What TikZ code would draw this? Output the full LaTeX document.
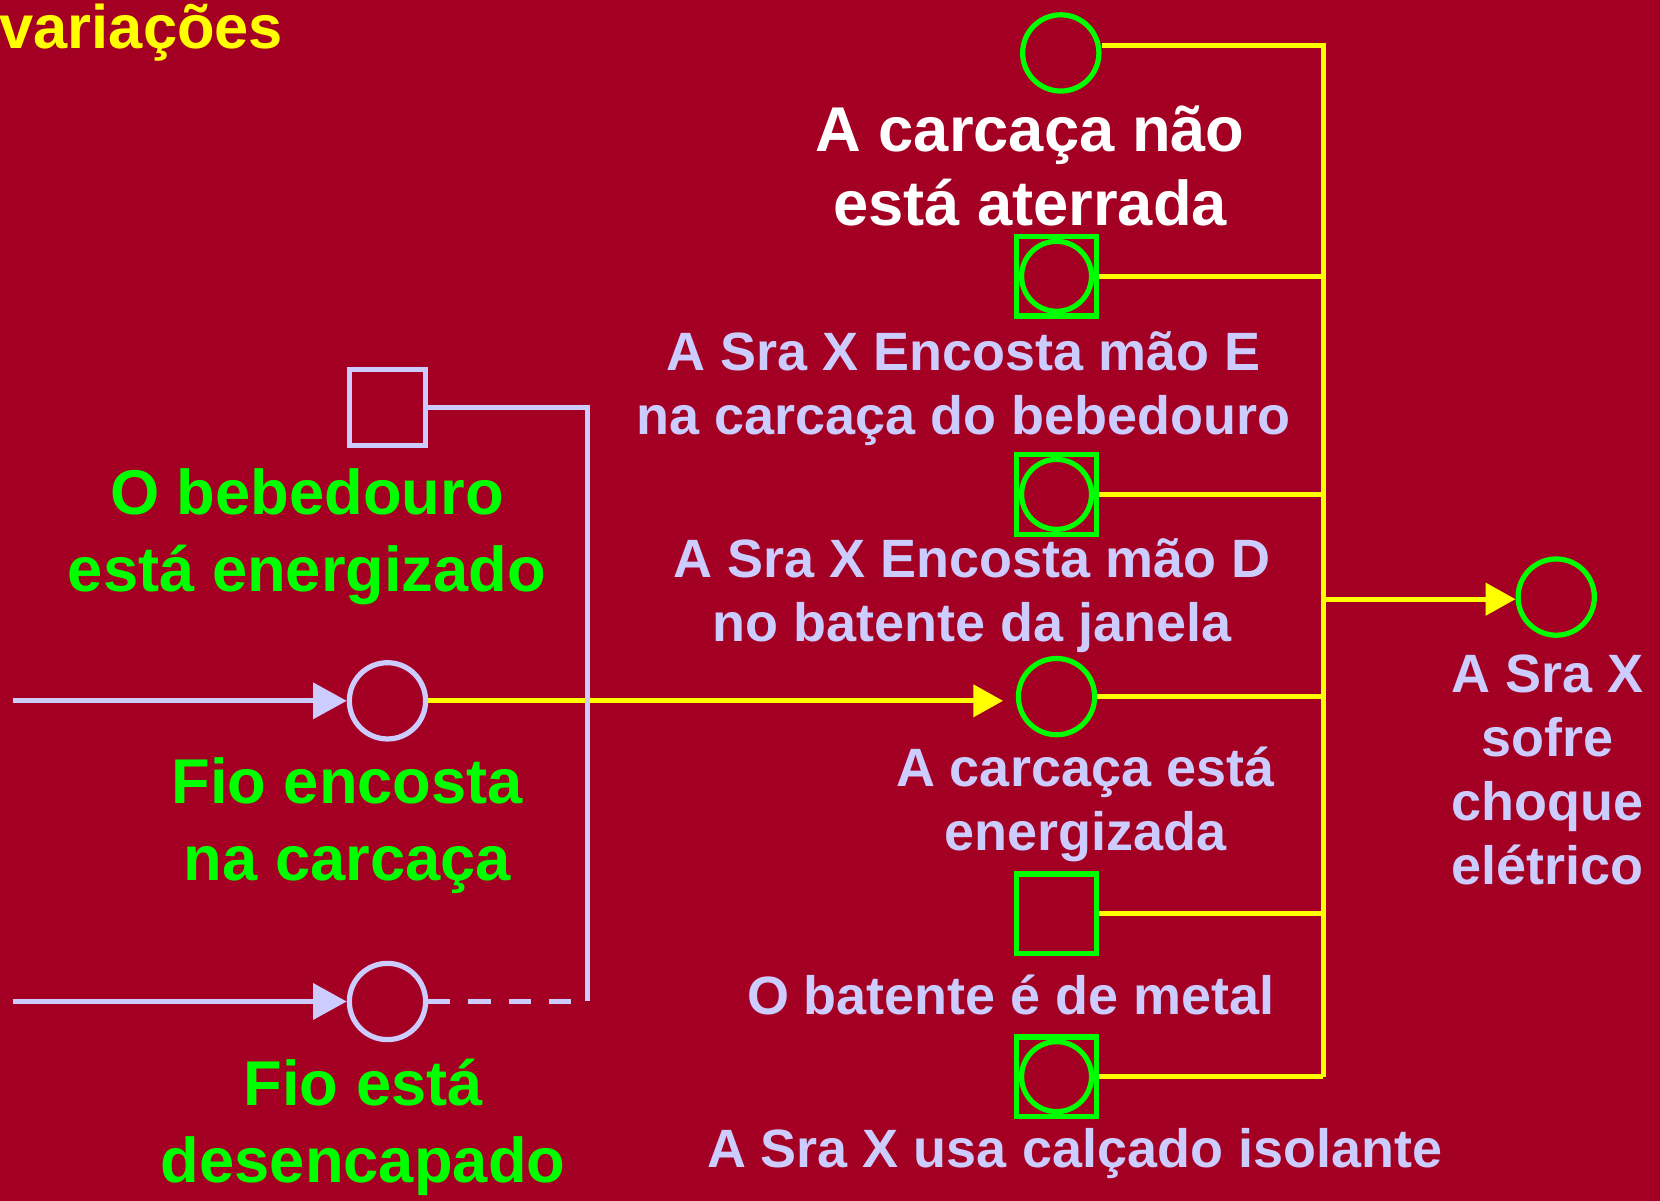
\documentclass[tikz,border=0pt]{standalone}
\usepackage{fontspec}
\setmainfont{Liberation Sans}
\definecolor{ftared}{RGB}{163, 0, 35}
\definecolor{ftalav}{RGB}{204, 204, 255}
\definecolor{ftagreen}{RGB}{0, 255, 0}
\definecolor{ftayellow}{RGB}{255, 255, 0}
\usepackage{tikz}
\usetikzlibrary{arrows.meta, positioning, calc}
\tikzset{
    eventcirc/.style={circle, draw=ftagreen, line width=1.4pt, minimum size=0.72cm, inner sep=0pt},
    inputcirc/.style={circle, draw=ftalav, line width=1.4pt, minimum size=0.72cm, inner sep=0pt},
    condbox/.style={rectangle, draw=ftagreen, line width=1.4pt, minimum size=0.75cm, inner sep=0pt},
    basicbox/.style={condbox, path picture={\draw[ftagreen, line width=1.4pt]
                     (path picture bounding box.center) circle (0.33cm);}},
    inputbox/.style={rectangle, draw=ftalav, line width=1.4pt, minimum size=0.72cm, inner sep=0pt},
    whitetxt/.style={align=center, inner sep=0pt, text=white, font=\fontsize{17}{20}\selectfont\bfseries},
    lavtxt/.style={align=center, inner sep=0pt, text=ftalav, font=\fontsize{14.5}{17.2}\selectfont\bfseries},
    greentxt/.style={align=center, inner sep=0pt, text=ftagreen, font=\fontsize{17}{20.8}\selectfont\bfseries},
    yline/.style={ftayellow, line width=1.4pt},
    yarrow/.style={-{Triangle[length=8pt, width=8.5pt]}, yline},
    lline/.style={ftalav, line width=1.4pt},
    larrow/.style={-{Triangle[length=9pt, width=9.5pt]}, ftalav, line width=1.4pt},
}

\begin{document}
\begin{tikzpicture}[x=0.01cm, y=-0.01cm]
    \path[use as bounding box, fill=ftared] (0,0) rectangle (1568,1134);

    % title
    \node[anchor=base west, inner sep=0pt, text=ftayellow, font=\fontsize{16.5}{19}\selectfont\bfseries] (title) at (-1,46) {variações};

    % right column of events
    \node[eventcirc] (carc) at (1002,50) {};
    \node[whitetxt] (carctxt) at (973,157) {A carcaça não\\está aterrada};
    \node[basicbox] (maoE) at (998,261) {};
    \node[lavtxt] (maoEtxt) at (910,367) {A Sra X Encosta mão E\\na carcaça do bebedouro};
    \node[basicbox] (maoD) at (998,467) {};
    \node[lavtxt] (maoDtxt) at (918,563) {A Sra X Encosta mão D\\no batente da janela};
    \node[eventcirc] (energ) at (998,658) {};
    \node[lavtxt] (energtxt) at (1025,760) {A carcaça está\\energizada};
    \node[condbox] (metal) at (998,863) {};
    \node[lavtxt] (metaltxt) at (955,940) {O batente é de metal};
    \node[basicbox] (calc) at (998,1017) {};
    \node[lavtxt] (calctxt) at (1015,1090) {A Sra X usa calçado isolante};

    % top event
    \node[eventcirc] (choque) at (1470,564) {};
    \node[lavtxt] (choquetxt) at (1462,727) {A Sra X\\sofre\\choque\\elétrico};

    % left column
    \node[inputbox] (beb) at (366,385) {};
    \node[greentxt] (bebtxt) at (290,507) {O bebedouro\\está energizado};
    \node[inputcirc] (encosta) at (366,662) {};
    \node[greentxt] (encostatxt) at (328,780) {Fio encosta\\na carcaça};
    \node[inputcirc] (desenc) at (366,946) {};
    \node[greentxt] (desenctxt) at (343,1065) {Fio está\\desencapado};

    \coordinate (bus) at (1250,566);
    \coordinate (jn) at (555,392);
    \coordinate (in1) at (12,662);
    \coordinate (in2) at (12,946);
    \coordinate (carcout) at ($(carc.east)+(0,-7)$);

    % yellow connections
    \draw[yline] (carcout) -| (calc.east -| bus);
    \foreach \n in {maoE, maoD, energ, metal, calc}
        \draw[yline] (\n.east) -- (\n.east -| bus);
    \draw[yarrow] (bus) -- (bus -| choque.west);
    \draw[yarrow, shorten >=0.12cm] (encosta.east) -- (encosta.east -| energ.west);

    % lavender connections
    \draw[larrow] (in1) -- (encosta.west);
    \draw[larrow] (in2) -- (desenc.west);
    \draw[lline] (beb.east) -| (jn |- desenc.east);
    \draw[lline, dash pattern=on 0.21cm off 0.17cm] (desenc.east) -- (jn |- desenc.east);
\end{tikzpicture}
\end{document}
